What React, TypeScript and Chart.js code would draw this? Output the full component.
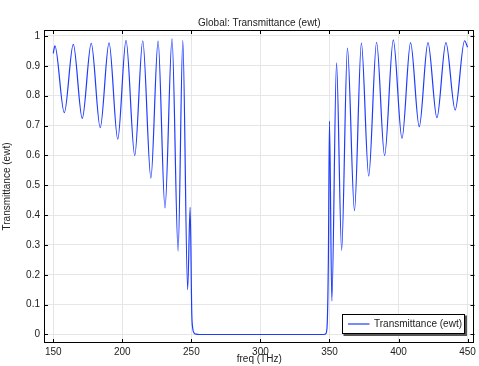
import React, { useEffect, useRef } from "react";
import { Chart, registerables } from "chart.js";

Chart.register(...registerables);

// Frequency (THz) sample points
const freq: number[] = [
  150, 151.2, 158.0, 164.5, 171.0, 177.5, 184.0, 190.4, 196.7, 202.7, 209.0,
  214.8, 220.7, 225.9, 230.9, 236.0, 240.4, 243.8, 247.3, 249.1, 250.3, 251.0,
  252.0, 253.5, 256.0, 300.0, 346.0, 347.5, 348.4, 349.2, 350.0, 351.7, 355.1,
  358.8, 363.0, 368.1, 373.1, 378.4, 384.1, 389.9, 396.2, 402.5, 408.7, 415.0,
  421.3, 427.8, 434.3, 441.0, 447.8, 450.0,
];

// Transmittance (ewt) at those frequencies
const transmittance: number[] = [
  0.942, 0.967, 0.743, 0.972, 0.724, 0.975, 0.693, 0.977, 0.654, 0.985, 0.599,
  0.984, 0.524, 0.983, 0.424, 0.99, 0.28, 0.985, 0.15, 0.426, 0.07, 0.02,
  0.005, 0.001, 0.0, 0.0, 0.0, 0.004, 0.04, 0.25, 0.715, 0.112, 0.91,
  0.282, 0.959, 0.415, 0.976, 0.531, 0.979, 0.599, 0.987, 0.657, 0.978, 0.696,
  0.978, 0.726, 0.978, 0.752, 0.984, 0.962,
];

const xTicks: number[] = [150, 200, 250, 300, 350, 400, 450];
const yTicks: number[] = [0, 0.1, 0.2, 0.3, 0.4, 0.5, 0.6, 0.7, 0.8, 0.9, 1];

const seriesLabel = "Transmittance (ewt)";
const chartTitle = "Global: Transmittance (ewt)";
const xTitle = "freq (THz)";
const yTitle = "Transmittance (ewt)";

const FONT = "'Liberation Sans', Arial, sans-serif";
const TEXT = "#222";
const LINE = "rgb(30,60,255)";

const decorPlugin = {
  id: "decor",
  afterDatasetsDraw(chart: any) {
    const { ctx, chartArea: a, scales } = chart;
    ctx.save();
    // frame
    ctx.strokeStyle = "#000";
    ctx.lineWidth = 1;
    ctx.strokeRect(
      Math.round(a.left) + 0.5,
      Math.round(a.top) + 0.5,
      Math.round(a.right) - Math.round(a.left) - 1,
      Math.round(a.bottom) - Math.round(a.top) - 1
    );
    // inward ticks
    const tl = 4;
    ctx.beginPath();
    for (const v of xTicks) {
      const px = Math.round(scales.x.getPixelForValue(v)) + 0.5;
      ctx.moveTo(px, a.bottom);
      ctx.lineTo(px, a.bottom - tl);
      ctx.moveTo(px, a.top);
      ctx.lineTo(px, a.top + tl);
    }
    for (const v of yTicks) {
      const py = Math.round(scales.y.getPixelForValue(v)) + 0.5;
      ctx.moveTo(a.left, py);
      ctx.lineTo(a.left + tl, py);
      ctx.moveTo(a.right, py);
      ctx.lineTo(a.right - tl, py);
    }
    ctx.stroke();

    // title
    ctx.fillStyle = TEXT;
    ctx.font = `10px ${FONT}`;
    ctx.textAlign = "center";
    ctx.textBaseline = "middle";
    ctx.fillText(chartTitle, (a.left + a.right) / 2, a.top - 7);

    // legend
    const w = 122;
    const h = 19;
    const x = Math.round(a.right - 10 - w) + 0.5;
    const y = Math.round(a.bottom - 10 - h) + 0.5;
    ctx.fillStyle = "#555";
    ctx.fillRect(x + 1, y + 1, w + 1.5, h + 1.5);
    ctx.fillStyle = "#fff";
    ctx.fillRect(x, y, w, h);
    ctx.strokeStyle = "#000";
    ctx.strokeRect(x, y, w, h);
    ctx.strokeStyle = LINE;
    ctx.lineWidth = 1.2;
    ctx.beginPath();
    ctx.moveTo(x + 5.5, y + h / 2);
    ctx.lineTo(x + 27, y + h / 2);
    ctx.stroke();
    ctx.fillStyle = TEXT;
    ctx.textAlign = "left";
    ctx.fillText(seriesLabel, x + 31.5, y + h / 2 + 0.5);
    ctx.restore();
  },
};

export default function App() {
  const ref = useRef<HTMLCanvasElement | null>(null);

  useEffect(() => {
    if (!ref.current) return;
    const chart = new Chart(ref.current, {
      type: "line",
      data: {
        datasets: [
          {
            label: seriesLabel,
            data: freq.map((f, i) => ({ x: f, y: transmittance[i] })),
            borderColor: LINE,
            borderWidth: 1.2,
            pointRadius: 0,
            fill: false,
            cubicInterpolationMode: "monotone",
          },
        ],
      },
      options: {
        animation: false,
        responsive: true,
        maintainAspectRatio: false,
        layout: { padding: { top: 30, right: 4, left: 0, bottom: 0 } },
        plugins: {
          legend: { display: false },
          title: { display: false },
          tooltip: { enabled: false },
        },
        scales: {
          x: {
            type: "linear",
            min: 143.3,
            max: 455,
            afterBuildTicks: (s: any) => {
              s.ticks = xTicks.map((v) => ({ value: v }));
            },
            afterFit: (s: any) => {
              s.height = 23;
            },
            grid: { color: "#e6e6e6", drawTicks: false },
            border: { display: false },
            ticks: {
              color: TEXT,
              font: { family: FONT, size: 10 },
              padding: 3,
              maxRotation: 0,
              callback: (v: any) => String(v),
            },
            title: {
              display: true,
              text: xTitle,
              color: TEXT,
              font: { family: FONT, size: 10 },
              padding: { top: 0, bottom: 1 },
            },
          },
          y: {
            type: "linear",
            min: -0.0285,
            max: 1.02,
            afterBuildTicks: (s: any) => {
              s.ticks = yTicks.map((v) => ({ value: v }));
            },
            afterFit: (s: any) => {
              s.width = 44;
            },
            grid: { color: "#e6e6e6", drawTicks: false },
            border: { display: false },
            ticks: {
              color: TEXT,
              font: { family: FONT, size: 10 },
              padding: 4,
              callback: (v: any) => String(Math.round(v * 10) / 10),
            },
            title: {
              display: true,
              text: yTitle,
              color: TEXT,
              font: { family: FONT, size: 10 },
              padding: { top: 1, bottom: 0 },
            },
          },
        },
      },
      plugins: [decorPlugin],
    });
    return () => chart.destroy();
  }, []);

  return (
    <div
      style={{
        position: "fixed",
        left: 0,
        top: 0,
        width: 479,
        height: 366,
        background: "#fff",
      }}
    >
      <canvas ref={ref} />
    </div>
  );
}
